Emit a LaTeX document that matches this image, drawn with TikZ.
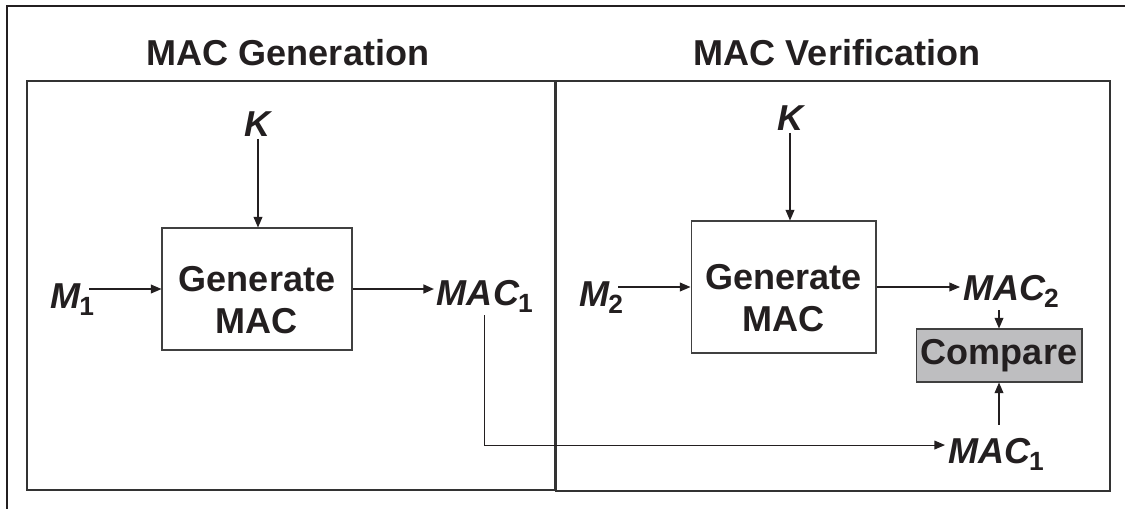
\documentclass[tikz,border=0pt]{standalone}
\usepackage{fontspec}
\setmainfont{Liberation Sans}
\definecolor{inkblack}{RGB}{35,31,32}
\definecolor{cmpgray}{RGB}{190,190,192}
\usetikzlibrary{arrows.meta,positioning}

\newcommand{\sub}[1]{\kern-0.5pt\raisebox{-0.2em}{\upshape\fontsize{15}{15}\selectfont #1}}

\begin{document}
\begin{tikzpicture}[x=0.02cm,y=-0.02cm,
    every node/.style={font=\fontsize{20.5}{23.8}\selectfont\bfseries,text=inkblack},
    sig/.style={inner sep=1.5pt,font=\fontsize{20.5}{23.8}\selectfont\bfseries\itshape},
    genbox/.style={draw=black!75,line width=0.6pt,align=center,inner sep=0pt,
                   text height=1.76cm,text depth=0pt},
    cmpbox/.style={draw=black!75,fill=cmpgray,line width=0.6pt,inner sep=0pt,
                   minimum width=3.32cm,minimum height=1.06cm},
    panel/.style={draw=black!80,line width=0.8pt},
    arr/.style={-{Triangle[length=6pt,width=5pt]},line width=0.6pt,draw=inkblack}]
  \useasboundingbox (0,0) rectangle (1125,508);
  % frame and the two halves
  \draw[line width=1.3pt,inkblack] (7,540) |- (1150,6);
  \draw[panel] (27,81) rectangle (555,490);
  \draw[panel] (556,81) rectangle (1110,491);
  \node[anchor=base] (titleL) at (288,65) {MAC Generation};
  \node[anchor=base] (titleR) at (837,65) {MAC Verification};

  % generation side
  \node[genbox,minimum width=3.8cm,minimum height=2.44cm] (genL) at (257,289) {Generate\\MAC};
  \node[sig,anchor=base] (K1) at (258,136) {K};
  \node[sig,anchor=base west,inner sep=0pt] (m1) at (50,308) {M\sub{1}};
  \node[sig,anchor=base west] (mac1) at (434,305) {MAC\sub{1}};

  % verification side
  \node[genbox,minimum width=3.7cm,minimum height=2.64cm] (genR) at (783.5,287) {Generate\\MAC};
  \node[cmpbox] (cmp) at (999,355.5) {Compare};
  \node[sig,anchor=base] (K2) at (790,130) {K};
  \node[sig,anchor=base west,inner sep=0pt] (m2) at (579,306) {M\sub{2}};
  \node[sig,anchor=base west] (mac2) at (960,300) {MAC\sub{2}};
  \node[sig,anchor=base west] (mac1b) at (945,463) {MAC\sub{1}};

  \draw[arr] (K1.south) -- (K1.south |- genL.north);
  \draw[arr] ([xshift=-0.1cm]m1.east |- genL.west) -- (genL.west);
  \draw[arr,line width=1.1pt] (genL.east) -- (mac1.west |- genL.east);
  \draw[arr] (mac1.south) |- ([yshift=0.18cm]mac1b.west);
  \draw[arr] (K2.south) -- (K2.south |- genR.north);
  \draw[arr] ([xshift=-0.1cm]m2.east |- genR.west) -- (genR.west);
  \draw[arr] (genR.east) -- (mac2.west |- genR.east);
  \draw[arr] (mac2.south -| cmp.north) -- (cmp.north);
  \draw[arr] ([yshift=0.2cm]mac1b.north -| cmp.south) -- (cmp.south);
\end{tikzpicture}
\end{document}
